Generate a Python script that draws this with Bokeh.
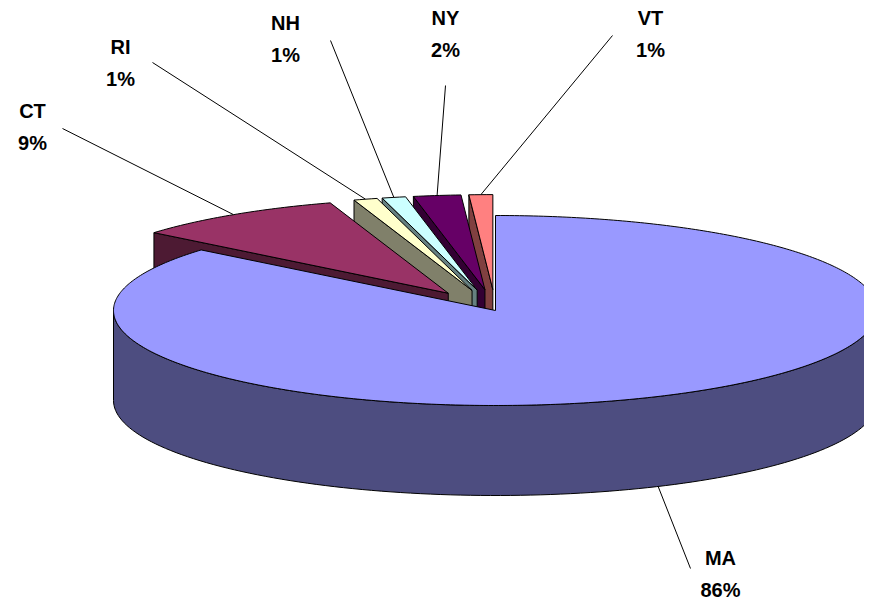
import numpy as np
from bokeh.plotting import figure
from bokeh.models import Range1d
from bokeh.embed import file_html
from bokeh.resources import INLINE
from bokeh.core.properties import value

# data, clockwise from 12 o'clock
states = ["MA", "CT", "RI", "NH", "NY", "VT"]
shares = [86, 9, 1, 1, 2, 1]
top_colors = ["#9999FF", "#993366", "#FFFFCC", "#CCFFFF", "#660066", "#FF8080"]
side_colors = ["#4D4D80", "#4D1A33", "#80806A", "#668080", "#330033", "#804040"]
explode = [0.0, 0.22, 0.22, 0.22, 0.22, 0.22]
# label centres (page pixels) and leader line starts
label_pos = [(720, 573), (32, 126), (120, 62), (285, 38), (445, 33), (650, 33)]
leader_start = [(690, 568), (62, 128), (152, 62), (330, 40), (445, 85), (612, 35)]

W, H = 864, 600
cx, cy, rx, ry, depth = 495, 310, 382, 95, 90

p = figure(width=W, height=H, x_range=Range1d(0, W), y_range=Range1d(H, 0),
           output_backend="svg", toolbar_location=None, min_border=0)
p.axis.visible = False
p.grid.visible = False
p.outline_line_color = None

total = float(sum(shares))
slices = []
start = np.pi / 2
for i, s in enumerate(shares):
    sweep = 2 * np.pi * s / total
    a2 = start
    a1 = start - sweep
    start = a1
    mid = (a1 + a2) / 2
    ox = explode[i] * rx * np.cos(mid)
    oy = explode[i] * ry * np.sin(mid)
    slices.append((i, a1, a2, mid, ox, oy))


def pt(t, ox, oy, down=0.0):
    return cx + rx * np.cos(t) + ox, cy - ry * np.sin(t) - oy + down


def draw_slice(i, a1, a2, mid, ox, oy):
    c0 = (cx + ox, cy - oy)
    # radial walls that face the viewer
    for edge, normal in ((a2, a2 + np.pi / 2), (a1, a1 - np.pi / 2)):
        if np.sin(normal) < -1e-6:
            ex, ey = pt(edge, ox, oy)
            p.patch([c0[0], ex, ex, c0[0]], [c0[1], ey, ey + depth, c0[1] + depth],
                    fill_color=side_colors[i], line_color="black", line_width=1)
    # outer wall (front half)
    for k in range(-2, 2):
        lo = max(a1, np.pi + 2 * np.pi * k)
        hi = min(a2, 2 * np.pi + 2 * np.pi * k)
        if hi > lo:
            ts = np.linspace(lo, hi, 120)
            xs, ys = pt(ts, ox, oy)
            p.patch(list(xs) + list(xs[::-1]), list(ys) + list((ys + depth)[::-1]),
                    fill_color=side_colors[i], line_color="black", line_width=1)
    ts = np.linspace(a1, a2, max(int((a2 - a1) * 80), 4))
    xs, ys = pt(ts, ox, oy)
    p.patch([c0[0]] + list(xs), [c0[1]] + list(ys),
            fill_color=top_colors[i], line_color="black", line_width=1)


order = sorted(slices[1:], key=lambda s: -np.sin(s[3])) + [slices[0]]
for s in order:
    draw_slice(*s)

# leader lines and labels
for (i, a1, a2, mid, ox, oy) in slices:
    down = depth if i == 0 else 0.0
    ax, ay = pt(mid, ox, oy, down)
    sx, sy = leader_start[i]
    p.line([sx, ax], [sy, ay], line_color="black", line_width=1)
    lx, ly = label_pos[i]
    p.text([lx, lx], [ly - 16, ly + 16], text=[states[i], f"{shares[i]}%"],
           text_font=value("Liberation Sans"), text_font_style="bold", text_font_size="20px",
           text_align="center", text_baseline="middle", text_color="black")

open("out.html", "w").write(file_html(p, INLINE))
